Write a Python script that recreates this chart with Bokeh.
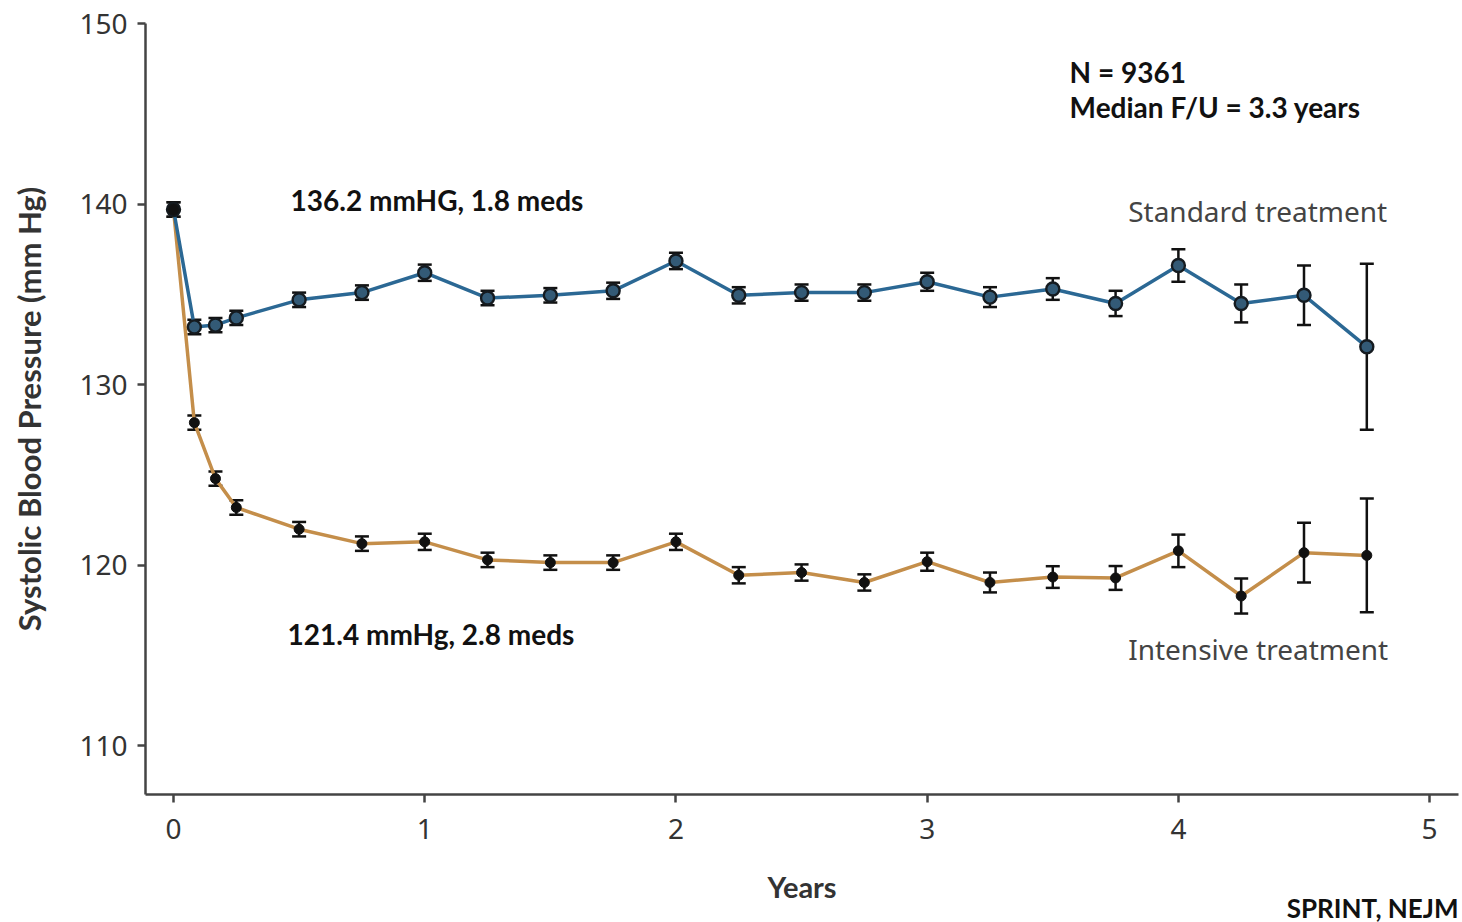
from bokeh.plotting import figure
from bokeh.models import ColumnDataSource, Whisker, TeeHead, Label, Range1d, FixedTicker, Title
from bokeh.embed import file_html
from bokeh.resources import INLINE

years = [0, 0.083, 0.167, 0.25, 0.5, 0.75, 1.0, 1.25, 1.5, 1.75, 2.0, 2.25,
         2.5, 2.75, 3.0, 3.25, 3.5, 3.75, 4.0, 4.25, 4.5, 4.75]
standard_sbp = [139.7, 133.2, 133.3, 133.7, 134.7, 135.1, 136.2, 134.8, 134.95, 135.2, 136.85, 134.95,
                135.1, 135.1, 135.7, 134.85, 135.3, 134.5, 136.6, 134.5, 134.95, 132.1]
standard_err = [0.4, 0.4, 0.4, 0.4, 0.4, 0.4, 0.45, 0.4, 0.4, 0.45, 0.45, 0.45,
                0.45, 0.45, 0.5, 0.55, 0.6, 0.7, 0.9, 1.05, 1.65, 4.6]
intensive_sbp = [139.7, 127.9, 124.8, 123.2, 122.0, 121.2, 121.3, 120.3, 120.15, 120.15, 121.3, 119.45,
                 119.6, 119.05, 120.2, 119.05, 119.35, 119.3, 120.8, 118.3, 120.7, 120.55]
intensive_err = [0.4, 0.4, 0.4, 0.4, 0.4, 0.4, 0.45, 0.4, 0.4, 0.4, 0.45, 0.45,
                 0.45, 0.45, 0.5, 0.55, 0.6, 0.66, 0.9, 0.97, 1.65, 3.15]
y_ticks = [110, 120, 130, 140, 150]
x_ticks = [0, 1, 2, 3, 4, 5]

std = ColumnDataSource(dict(x=years, y=standard_sbp,
                            lo=[v - e for v, e in zip(standard_sbp, standard_err)],
                            hi=[v + e for v, e in zip(standard_sbp, standard_err)]))
ins = ColumnDataSource(dict(x=years, y=intensive_sbp,
                            lo=[v - e for v, e in zip(intensive_sbp, intensive_err)],
                            hi=[v + e for v, e in zip(intensive_sbp, intensive_err)]))

p = figure(width=1460, height=922, output_backend="svg", toolbar_location=None,
           x_range=Range1d(-0.1115, 5.115), y_range=Range1d(107.31, 150.0),
           min_border_left=145, min_border_top=23, min_border_right=2, min_border_bottom=128)
p.outline_line_color = None
p.xgrid.visible = False
p.ygrid.visible = False
p.background_fill_color = "white"

AX = "#444444"
TICK_FONT = "Noto Sans"
for ax in (p.xaxis[0], p.yaxis[0]):
    ax.axis_line_color = AX
    ax.axis_line_width = 2.5
    ax.major_tick_line_color = AX
    ax.major_tick_line_width = 2.5
    ax.major_tick_out = 8
    ax.major_tick_in = 0
    ax.minor_tick_line_color = None
    ax.major_label_text_font = TICK_FONT
    ax.major_label_text_font_size = "28px"
    ax.major_label_text_color = "#333333"

p.xaxis.ticker = FixedTicker(ticks=x_ticks)
p.yaxis.ticker = FixedTicker(ticks=y_ticks)
p.xaxis.major_label_standoff = 16
p.yaxis.major_label_standoff = 10

p.yaxis.axis_label = "Systolic Blood Pressure (mm Hg)"
p.yaxis.axis_label_text_font = "Lato"
p.yaxis.axis_label_text_font_style = "bold"
p.yaxis.axis_label_text_font_size = "31px"
p.yaxis.axis_label_text_color = "#333333"
p.yaxis.axis_label_standoff = 28

p.xaxis.axis_label = "Years"
p.xaxis.axis_label_text_font = "Lato"
p.xaxis.axis_label_text_font_style = "bold"
p.xaxis.axis_label_text_font_size = "29px"
p.xaxis.axis_label_text_color = "#333333"
p.xaxis.axis_label_standoff = 27

p.add_layout(Title(text="SPRINT, NEJM", align="right", vertical_align="top", text_font="Lato",
                   text_font_style="bold", text_font_size="26px", text_color="#111111",
                   standoff=-30, offset=0), "below")

BLUE = "#2b6894"
ORANGE = "#c48e4a"

# Intensive
p.line("x", "y", source=ins, line_color=ORANGE, line_width=3.5)
p.add_layout(Whisker(source=ins, base="x", lower="lo", upper="hi", line_color="#111111", line_width=2.5,
                     upper_head=TeeHead(size=14, line_color="#111111", line_width=2.5),
                     lower_head=TeeHead(size=14, line_color="#111111", line_width=2.5)))
p.scatter("x", "y", source=ins, size=10, fill_color="#111111", line_color="#111111")

# Standard
p.line("x", "y", source=std, line_color=BLUE, line_width=3.5)
p.add_layout(Whisker(source=std, base="x", lower="lo", upper="hi", line_color="#111111", line_width=2.5,
                     upper_head=TeeHead(size=14, line_color="#111111", line_width=2.5),
                     lower_head=TeeHead(size=14, line_color="#111111", line_width=2.5)))
p.scatter("x", "y", source=std, size=13, fill_color="#335a76", line_color="#151b20", line_width=2.4)
p.scatter([years[0]], [standard_sbp[0]], size=11, fill_color="#111111", line_color="#111111")

BOLD = "Lato"
def lab(x, y, text, size, bold=True, align="left", color="#111111", font=BOLD):
    p.add_layout(Label(x=x, y=y, text=text, text_font=font, text_font_size=size,
                       text_font_style="bold" if bold else "normal", text_align=align,
                       text_baseline="middle", text_color=color))

lab(0.466, 140.22, "136.2 mmHG, 1.8 meds", "28px")
lab(0.454, 116.18, "121.4 mmHg, 2.8 meds", "28px")
lab(3.567, 147.31, "N = 9361", "28px")
lab(3.567, 145.37, "Median F/U = 3.3 years", "28px")
lab(3.80, 139.61, "Standard treatment", "28px", bold=False, color="#444444", font="Noto Sans")
lab(3.80, 115.35, "Intensive treatment", "28px", bold=False, color="#444444", font="Noto Sans")

open("out.html", "w").write(file_html(p, INLINE))
